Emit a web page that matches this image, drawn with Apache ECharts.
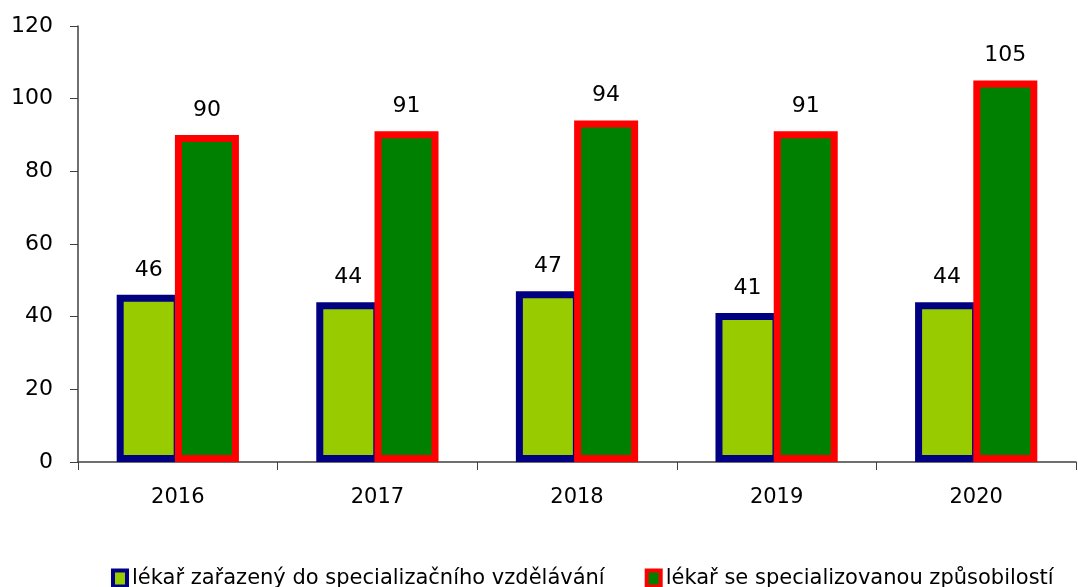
<!DOCTYPE html>
<html>
<head>
<meta charset="utf-8">
<script src="https://cdn.jsdelivr.net/npm/echarts@6/dist/echarts.min.js"></script>
<style>
  html, body { margin: 0; padding: 0; background: #fff; }
  #chart { width: 1078px; height: 587px; }
</style>
</head>
<body>
<div id="chart"></div>
<script>
const years = ["2016", "2017", "2018", "2019", "2020"];
const vZarazeny = [46, 44, 47, 41, 44];
const vSeSpec = [90, 91, 94, 91, 105];
const nameA = "lékař zařazený do specializačního vzdělávání";
const nameB = "lékař se specializovanou způsobilostí";

const chart = echarts.init(document.getElementById("chart"));
const font = "DejaVu Sans";

// value labels above each bar
const labelStyle = {
  show: true,
  position: "top",
  distance: 14,
  color: "#000",
  fontSize: 22,
  fontFamily: font,
};

chart.setOption({
  animation: false,
  textStyle: { fontFamily: font },
  grid: { left: 78, right: 2, top: 26, bottom: 125 },
  legend: {
    bottom: -7,
    left: 106,
    itemGap: 40,
    itemWidth: 14,
    itemHeight: 16,
    icon: "rect",
    textStyle: { fontSize: 21, color: "#000", fontFamily: font },
    data: [
      { name: nameA, itemStyle: { color: "#99cc00", borderColor: "#000080", borderWidth: 4 } },
      { name: nameB, itemStyle: { color: "#008000", borderColor: "#ff0000", borderWidth: 4 } },
    ],
  },
  xAxis: {
    type: "category",
    data: years,
    axisLine: { lineStyle: { color: "#404040", width: 1.5 } },
    axisTick: { show: true, length: 8, lineStyle: { color: "#404040" } },
    axisLabel: { color: "#000", fontSize: 21, margin: 25 },
  },
  yAxis: {
    type: "value",
    min: 0,
    max: 120,
    interval: 20,
    axisLine: { show: true, lineStyle: { color: "#404040", width: 1.5 } },
    axisTick: { show: true, length: 8, lineStyle: { color: "#404040" } },
    splitLine: { show: false },
    axisLabel: { color: "#000", fontSize: 22, margin: 25 },
  },
  series: [
    {
      name: nameA,
      type: "bar",
      data: vZarazeny,
      barWidth: 64,
      barGap: "-9%",
      itemStyle: { color: "#99cc00", borderColor: "#000080", borderWidth: 7 },
      label: labelStyle,
    },
    {
      name: nameB,
      type: "bar",
      data: vSeSpec,
      barWidth: 64,
      itemStyle: { color: "#008000", borderColor: "#ff0000", borderWidth: 7 },
      label: labelStyle,
    },
  ],
});
</script>
</body>
</html>
